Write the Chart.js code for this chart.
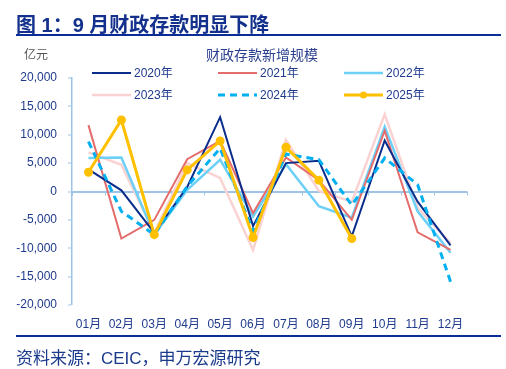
<!DOCTYPE html>
<html lang="zh">
<head>
    <meta charset="UTF-8">
    <title>财政存款新增规模</title>
    <script src="https://cdn.jsdelivr.net/npm/chart.js"></script>
    <style>
        body {
            margin: 0;
            padding: 0;
            background: #fff;
            font-family: "Liberation Sans", "Noto Sans CJK SC", sans-serif;
        }
        .page {
            position: relative;
            width: 506px;
            height: 369px;
            overflow: hidden;
        }
        .title {
            position: absolute;
            left: 16px;
            top: 9px;
            font-size: 20px;
            font-weight: bold;
            color: #13318c;
            white-space: nowrap;
        }
        .rule {
            position: absolute;
            left: 16px;
            width: 485px;
            height: 2px;
            background: #0a2e96;
        }
        .unit {
            position: absolute;
            left: 24px;
            top: 45px;
            font-size: 12px;
            color: #555;
        }
        .subtitle {
            position: absolute;
            left: 206px;
            top: 44px;
            font-size: 14px;
            color: #2a3f8f;
            white-space: nowrap;
        }
        .source {
            position: absolute;
            left: 16px;
            top: 344px;
            font-size: 17px;
            color: #1a3a8c;
            white-space: nowrap;
        }
        canvas {
            position: absolute;
            left: 0;
            top: 0;
        }
    </style>
</head>
<body>
<div class="page">
    <canvas id="chart" width="506" height="369"></canvas>
    <div class="title">图 1：9 月财政存款明显下降</div>
    <div class="rule" style="top:34px"></div>
    <div class="unit">亿元</div>
    <div class="subtitle">财政存款新增规模</div>
    <div class="rule" style="top:335px"></div>
    <div class="source">资料来源：CEIC，申万宏源研究</div>
</div>

<script>
    const months = ['01月', '02月', '03月', '04月', '05月', '06月', '07月', '08月', '09月', '10月', '11月', '12月'];
    const years = ['2020年', '2021年', '2022年', '2023年', '2024年', '2025年'];

    // 亿元
    const y2020 = [3900, 200, -7300, 800, 13100, -6100, 5000, 5400, -7900, 9000, -1800, -9500];
    const y2021 = [11700, -8300, -5000, 5700, 8900, -3800, 6000, 2000, -5000, 10700, -7200, -10300];
    const y2022 = [5900, 6000, -7600, 300, 5600, -4400, 4800, -2600, -4600, 11400, -3500, -10800];
    const y2023 = [6900, 4700, -7300, 5000, 2400, -10300, 9100, 100, -1800, 13600, -2900, -9100];
    const y2024 = [8800, -3500, -7600, 900, 7600, -7000, 6600, 5600, -2400, 5900, 1200, -15900];
    const y2025 = [3400, 12600, -7600, 3800, 8900, -8100, 7800, 2000, -8300, null, null, null];

    const axisBlue = '#9dc3e6';
    const textBlue = '#1f3a8c';

    function line(label, data, color, width, order, extra) {
        return Object.assign({
            label: label,
            data: data,
            borderColor: color,
            backgroundColor: color,
            borderWidth: width,
            pointRadius: 0,
            tension: 0,
            fill: false,
            order: order
        }, extra || {});
    }

    // legend in 3 columns x 2 rows, drawn from the datasets
    const legendPlugin = {
        id: 'gridLegend',
        afterDraw(chart) {
            const ctx = chart.ctx;
            const colX = [92, 218, 344];
            const rowY = [73, 95];
            ctx.save();
            chart.data.datasets.forEach((ds, i) => {
                const x = colX[i % 3];
                const y = rowY[Math.floor(i / 3)];
                ctx.strokeStyle = ds.borderColor;
                ctx.lineWidth = ds.borderWidth;
                ctx.setLineDash(ds.borderDash || []);
                ctx.beginPath();
                ctx.moveTo(x, y);
                ctx.lineTo(x + 39, y);
                ctx.stroke();
                ctx.setLineDash([]);
                if (ds.pointRadius > 0) {
                    ctx.fillStyle = ds.borderColor;
                    ctx.beginPath();
                    ctx.arc(x + 19.5, y, 3.5, 0, Math.PI * 2);
                    ctx.fill();
                }
                ctx.fillStyle = textBlue;
                ctx.font = '12px "Liberation Sans", "Noto Sans CJK SC", sans-serif';
                ctx.textBaseline = 'middle';
                ctx.fillText(ds.label, x + 42, y + 1);
            });
            ctx.restore();
        }
    };

    // small tick marks on the zero line between the months
    const zeroTicks = {
        id: 'zeroTicks',
        beforeDatasetsDraw(chart) {
            const xs = chart.scales.x;
            const y0 = chart.scales.y.getPixelForValue(0);
            const ctx = chart.ctx;
            ctx.save();
            ctx.strokeStyle = axisBlue;
            ctx.lineWidth = 1;
            for (let i = 0; i <= months.length; i++) {
                const px = Math.round(xs.getPixelForValue(i - 0.5)) + 0.5;
                ctx.beginPath();
                ctx.moveTo(px, y0);
                ctx.lineTo(px, y0 + 4);
                ctx.stroke();
            }
            ctx.restore();
        }
    };

    new Chart(document.getElementById('chart'), {
        type: 'line',
        data: {
            labels: months,
            datasets: [
                line(years[0], y2020, '#0a2d8c', 2, 3),
                line(years[1], y2021, '#e46c6c', 2, 4),
                line(years[2], y2022, '#6dd0f7', 2.5, 5),
                line(years[3], y2023, '#fad2d2', 2.5, 6),
                line(years[4], y2024, '#00b0f0', 3, 2, { borderDash: [7, 5] }),
                line(years[5], y2025, '#ffc000', 3, 1, { pointRadius: 4.5, pointBorderWidth: 0, pointBackgroundColor: '#ffc000' })
            ]
        },
        options: {
            responsive: false,
            animation: false,
            devicePixelRatio: 1,
            layout: { padding: { top: 78, right: 39, left: 0, bottom: 0 } },
            plugins: {
                legend: { display: false },
                title: { display: false },
                tooltip: { enabled: false }
            },
            scales: {
                x: {
                    offset: true,
                    grid: { display: false },
                    border: { display: false },
                    ticks: {
                        color: textBlue,
                        padding: 4,
                        maxRotation: 0,
                        font: { size: 12, family: '"Liberation Sans", "Noto Sans CJK SC", sans-serif' }
                    },
                    afterFit(scale) { scale.height = 64; }
                },
                y: {
                    min: -20000,
                    max: 20000,
                    ticks: {
                        stepSize: 5000,
                        color: textBlue,
                        padding: 11,
                        font: { size: 12, family: '"Liberation Sans", sans-serif' },
                        callback: v => v.toLocaleString('en-US')
                    },
                    grid: {
                        color: c => (c.tick && c.tick.value === 0) ? axisBlue : 'rgba(0,0,0,0)',
                        lineWidth: c => (c.tick && c.tick.value === 0) ? 2 : 0,
                        tickColor: axisBlue,
                        tickLength: 4,
                        tickWidth: 1
                    },
                    border: { color: axisBlue, width: 1.5 },
                    afterFit(scale) { scale.width = 72; }
                }
            }
        },
        plugins: [legendPlugin, zeroTicks]
    });
</script>
</body>
</html>
